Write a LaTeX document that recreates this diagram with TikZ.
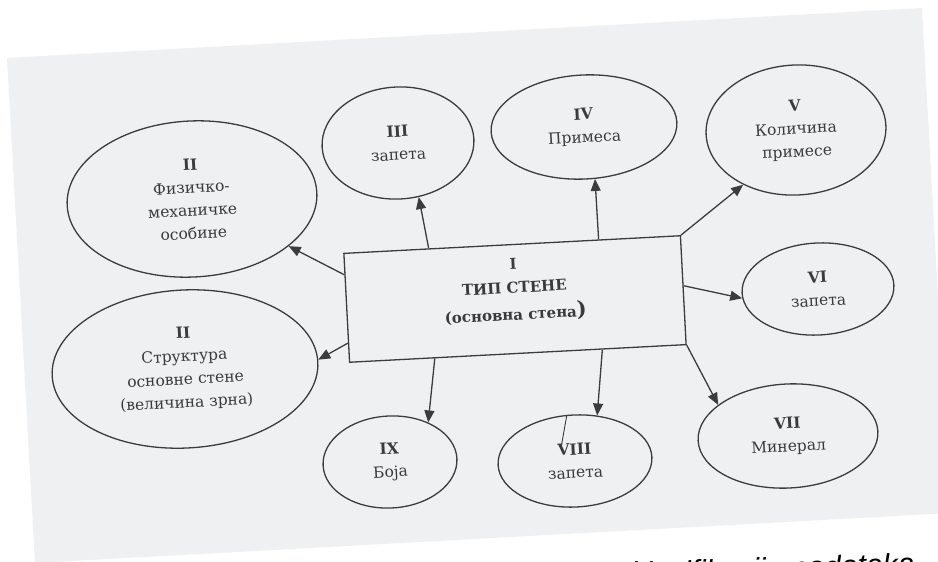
\documentclass[tikz,border=0pt]{standalone}
\usepackage{fontspec}
\setmainfont{DejaVu Serif}
\newfontfamily\capfont{Liberation Sans}
\usetikzlibrary{shapes.geometric,arrows.meta,calc}
\definecolor{pagegray}{RGB}{239,240,242}
\definecolor{ink}{RGB}{60,60,60}
\definecolor{txt}{RGB}{58,58,58}
\begin{document}
\begin{tikzpicture}[x=1pt,y=-1pt,
  bubble/.style={ellipse,draw=ink,line width=1.3pt,inner sep=0pt,rotate=3,align=center,text=txt,font=\fontsize{15.5}{23}\selectfont},
  mainbox/.style={rectangle,draw=ink,line width=1.3pt,inner sep=0pt,rotate=3,minimum width=337pt,minimum height=109pt,align=center,text=txt,font=\bfseries\fontsize{15}{24}\selectfont},
  link/.style={draw=ink,line width=1.3pt,-{Triangle[length=12pt,width=10pt]}},
  stray/.style={draw=ink,line width=0.9pt},
  caption/.style={font=\capfont\itshape\fontsize{30}{30}\selectfont,text=black,rotate=2,inner sep=0pt}
]
\useasboundingbox (0,0) rectangle (938,562);
\clip (0,0) rectangle (938,562);
\fill[white] (0,0) rectangle (938,562);
\fill[pagegray] (7,58) -- (922,8) -- (950,513) -- (35,563) -- cycle;

\node[mainbox] (box) at (515,299) {I\\ТИП СТЕНЕ\\[3pt](основна стена{\fontsize{21}{21}\selectfont)}\\[-4pt]};

\node[bubble,minimum width=250pt,minimum height=156pt] (e2a) at (192,199) {\textbf{II}\\Физичко-\\механичке\\особине};
\node[bubble,minimum width=266pt,minimum height=158pt] (e2b) at (185,369) {\textbf{II}\\Структура\\основне стене\\(величина зрна)};
\node[bubble,minimum width=152pt,minimum height=112pt] (e3) at (398,143) {\textbf{III}\\запета};
\node[bubble,minimum width=186pt,minimum height=104pt] (e4) at (584,127) {\textbf{IV}\\Примеса};
\node[bubble,minimum width=180pt,minimum height=130pt] (e5) at (796,130) {\textbf{V}\\Количина\\примесе};
\node[bubble,minimum width=152pt,minimum height=92pt] (e6) at (818,289) {\textbf{VI}\\запета};
\node[bubble,minimum width=180pt,minimum height=104pt] (e7) at (788,436) {\textbf{VII}\\Минерал};
\node[bubble,minimum width=154pt,minimum height=92pt] (e8) at (575,461) {\textbf{VIII}\\запета};
\node[bubble,minimum width=134pt,minimum height=92pt] (e9) at (390,462) {\textbf{IX}\\Боја};

\draw[link] ($(box.north west)!0.2!(box.south west)$) -- (e2a.-29);
\draw[link] ($(box.north west)!0.82!(box.south west)$) -- (e2b.1);
\draw[link] ($(box.north west)!0.253!(box.north east)$) -- (e3.-72);
\draw[link] ($(box.north west)!0.756!(box.north east)$) -- (e4.-81);
\draw[link] (box.north east) -- (e5.-137);
\draw[link] ($(box.north east)!0.46!(box.south east)$) -- (e6.-176);
\draw[link] (box.south east) -- (e7.153);
\draw[link] ($(box.south west)!0.75!(box.south east)$) -- (e8.61);
\draw[link] ($(box.south west)!0.254!(box.south east)$) -- (e9.43);

\coordinate (s8) at (561,448);
\draw[stray] (e8.97) -- (s8);

\node[caption,anchor=base east] (cap) at (915,574) {klasifikacija podataka};
\end{tikzpicture}
\end{document}
